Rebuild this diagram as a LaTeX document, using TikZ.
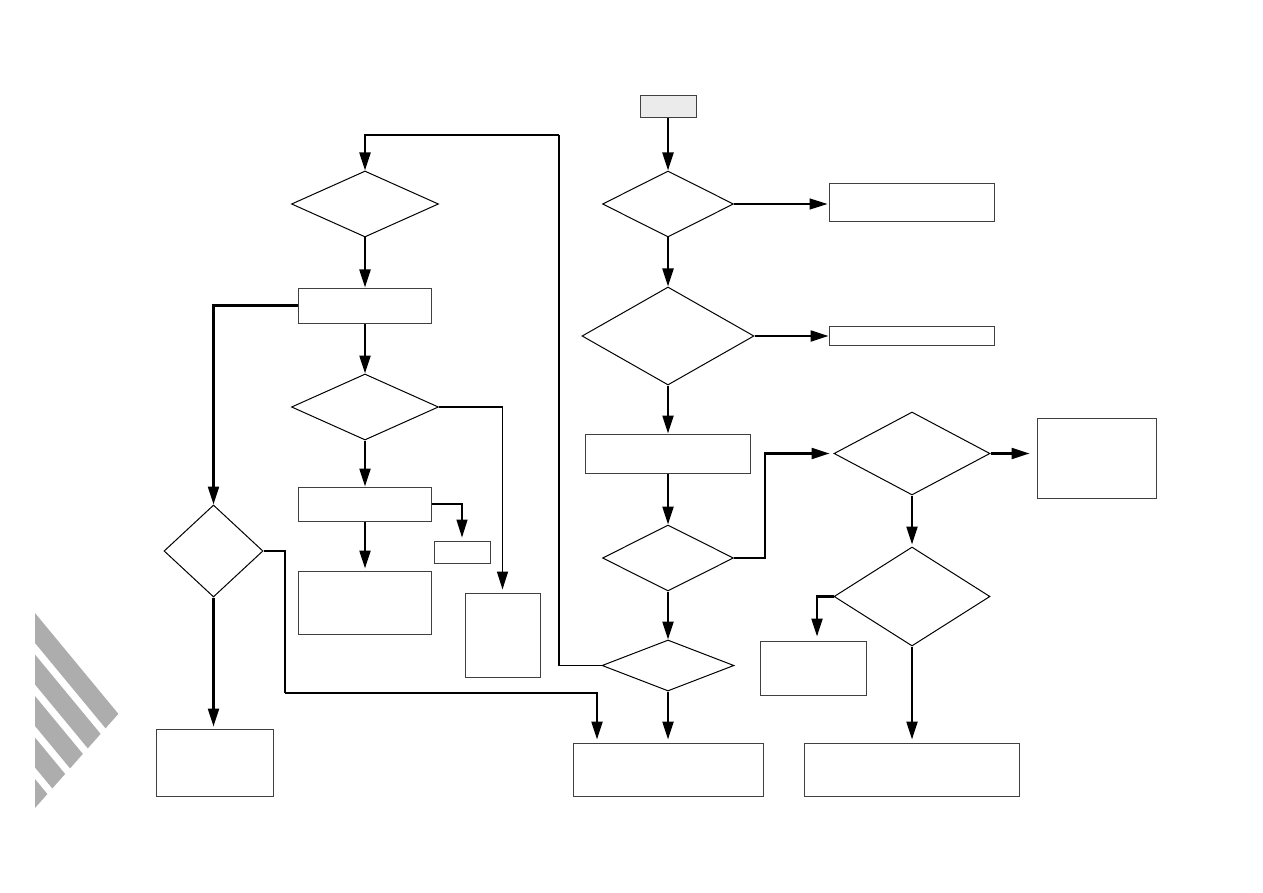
\documentclass[tikz,border=0pt]{standalone}
\usetikzlibrary{shapes.geometric,arrows.meta}
\begin{document}
\begin{tikzpicture}[x=1pt,y=-1pt,
  box/.style={draw=black!75,line width=1pt,inner sep=0pt,rectangle},
  dia/.style={draw=black,line width=1pt,inner sep=0pt,diamond},
  conn/.style={line width=2.2pt,-{Triangle[length=18pt,width=11pt]}},
  thinconn/.style={line width=1.3pt,-{Triangle[length=18pt,width=11pt]}}]
\useasboundingbox (0,0) rectangle (1263,893);
% decorative stripes
\begin{scope}
\clip (35,611) -- (120,712) -- (35,808) -- cycle;
\foreach \i in {0,1,2,3,4}{
  \fill[black!32] (35,{613+41.5*\i}) -- (140,{613+41.5*\i+127}) -- (140,{643+41.5*\i+127}) -- (35,{643+41.5*\i}) -- cycle;
}
\end{scope}
% right column
\node[box,fill=black!8,minimum width=56pt,minimum height=22pt] (start) at (668,107) {};
\node[dia,minimum width=131pt,minimum height=66pt] (d1) at (668,204) {};
\node[box,minimum width=165pt,minimum height=38pt] (r1) at (911.5,203) {};
\node[dia,minimum width=172pt,minimum height=98pt] (d2) at (668,336) {};
\node[box,minimum width=165pt,minimum height=19pt] (r2) at (911.5,335.5) {};
\node[box,minimum width=165pt,minimum height=39pt] (b3) at (668,453.5) {};
\node[dia,minimum width=131pt,minimum height=66pt] (d3) at (668,558) {};
\node[dia,minimum width=156pt,minimum height=83pt] (d5) at (912,453.5) {};
\node[box,minimum width=119pt,minimum height=80pt] (r5) at (1096.5,458) {};
\node[dia,minimum width=156pt,minimum height=99pt] (d6) at (912,596.5) {};
\node[box,minimum width=106pt,minimum height=54pt] (b7) at (813,668) {};
\node[box,minimum width=215pt,minimum height=53pt] (b8) at (911.5,769.5) {};
\node[dia,minimum width=132pt,minimum height=51pt] (d4) at (668,665.5) {};
\node[box,minimum width=190pt,minimum height=53pt] (b9) at (668,769.5) {};
% left columns
\node[dia,minimum width=147pt,minimum height=66pt] (dl1) at (365,204) {};
\node[box,minimum width=133pt,minimum height=35pt] (bl1) at (365,305.5) {};
\node[dia,minimum width=147pt,minimum height=66pt] (dl2) at (365,407) {};
\node[box,minimum width=133pt,minimum height=34pt] (bl2) at (365,504) {};
\node[box,minimum width=133pt,minimum height=63pt] (bl3) at (365,602.5) {};
\node[box,minimum width=56pt,minimum height=22pt] (bl4) at (462,552) {};
\node[box,minimum width=75pt,minimum height=84pt] (bl5) at (502.5,635) {};
\node[dia,minimum width=99pt,minimum height=92pt] (dll) at (213.5,551) {};
\node[box,minimum width=117pt,minimum height=67pt] (bll) at (214.5,762.5) {};
\coordinate (loopA) at (559,135);
\coordinate (c2) at (285,693);
% connectors
\draw[conn] (start.south) -- (d1.north);
\draw[thinconn,shorten >=1pt] (d1.east) -- (d1.east -| r1.west);
\draw[conn] (d1.south) -- (d2.north);
\draw[conn] (d2.east) -- (d2.east -| r2.west);
\draw[conn] (d2.south) -- (b3.north);
\draw[conn] (b3.south) -- (d3.north);
\draw[conn,shorten >=4pt] (d3.east) -- ++(31,0) |- (d5.west);
\draw[conn,shorten >=7pt] (d5.east) -- (r5.west |- d5.east);
\draw[conn,shorten >=2pt] (d5.south) -- (d6.north);
\draw[conn,shorten >=4pt] (d6.west) -| ([xshift=4pt]b7.north);
\draw[conn,shorten >=3pt] (d6.south) -- (d6.south |- b8.north);
\draw[conn] (d3.south) -- (d4.north);
\draw[conn,shorten >=3pt] (d4.south) -- (b9.north);
\draw[line width=1.6pt] (d4.west) -| (loopA);
\draw[conn] (loopA) -| (dl1.north);
\draw[conn] (dl1.south) -- (bl1.north);
\draw[conn] (bl1.south) -- (dl2.north);
\draw[thinconn,line width=1.5pt,shorten >=3pt] (dl2.east) -| (bl5.north);
\draw[conn] (dl2.south) -- (bl2.north);
\draw[thinconn,shorten >=3pt] (bl2.east) -| (bl4.north);
\draw[conn,shorten >=2pt] (bl2.south) -- (bl3.north);
\draw[conn] (bl1.west) -| (dll.north);
\draw[line width=2.2pt] (dll.east) -| (c2);
\draw[conn,shorten >=3pt] (c2) -| ([xshift=-71pt]b9.north);
\draw[conn,shorten >=2pt] (dll.south) -- (dll.south |- bll.north);
\end{tikzpicture}
\end{document}
